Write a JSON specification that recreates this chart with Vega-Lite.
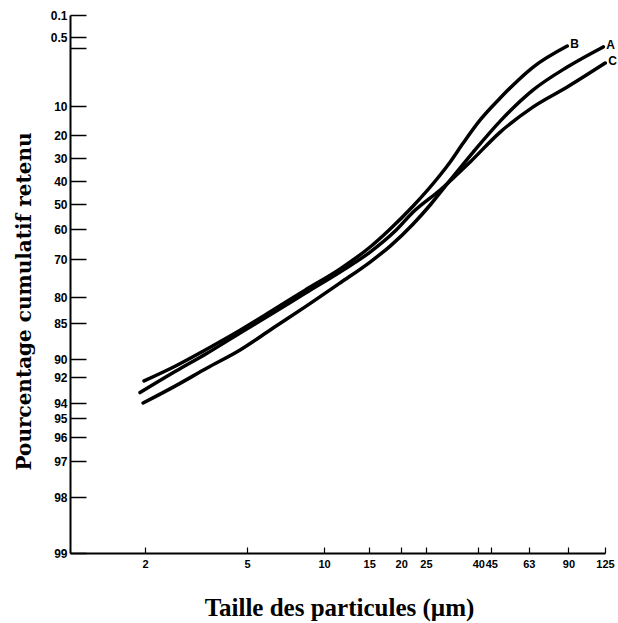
{
  "$schema": "https://vega.github.io/schema/vega-lite/v6.json",
  "width": 535,
  "height": 538,
  "autosize": {"type": "none"},
  "padding": {"left": 70, "top": 15, "right": 13, "bottom": 70},
  "background": "white",
  "config": {
    "view": {"stroke": null},
    "axis": {
      "domainColor": "black",
      "domainWidth": 2,
      "tickColor": "black",
      "labelColor": "black",
      "titleColor": "black",
      "grid": false
    }
  },
  "datasets": {
    "curves": [
      {"curve": "A", "size": 1.965, "pct": 94.0},
      {"curve": "A", "size": 2.62, "pct": 92.7},
      {"curve": "A", "size": 3.494, "pct": 91.0},
      {"curve": "A", "size": 4.7, "pct": 88.75},
      {"curve": "A", "size": 6.325, "pct": 85.7},
      {"curve": "A", "size": 8.434, "pct": 81.9},
      {"curve": "A", "size": 11.55, "pct": 76.3},
      {"curve": "A", "size": 15.13, "pct": 70.8},
      {"curve": "A", "size": 18.12, "pct": 65.7},
      {"curve": "A", "size": 22.28, "pct": 58.0},
      {"curve": "A", "size": 25.96, "pct": 50.4},
      {"curve": "A", "size": 31.08, "pct": 39.6},
      {"curve": "A", "size": 38.22, "pct": 27.4},
      {"curve": "A", "size": 48.73, "pct": 15.2},
      {"curve": "A", "size": 65.56, "pct": 7.5},
      {"curve": "A", "size": 89.04, "pct": 3.95},
      {"curve": "A", "size": 123.1, "pct": 0.95},
      {"curve": "B", "size": 1.982, "pct": 92.3},
      {"curve": "B", "size": 2.62, "pct": 90.8},
      {"curve": "B", "size": 3.494, "pct": 88.6},
      {"curve": "B", "size": 4.7, "pct": 86.0},
      {"curve": "B", "size": 6.325, "pct": 82.5},
      {"curve": "B", "size": 8.434, "pct": 78.2},
      {"curve": "B", "size": 11.55, "pct": 72.6},
      {"curve": "B", "size": 15.13, "pct": 66.0},
      {"curve": "B", "size": 18.12, "pct": 60.0},
      {"curve": "B", "size": 22.28, "pct": 50.8},
      {"curve": "B", "size": 28.4, "pct": 37.4},
      {"curve": "B", "size": 31.08, "pct": 31.7},
      {"curve": "B", "size": 34.93, "pct": 23.5},
      {"curve": "B", "size": 40.7, "pct": 14.8},
      {"curve": "B", "size": 48.73, "pct": 8.76},
      {"curve": "B", "size": 65.56, "pct": 3.95},
      {"curve": "B", "size": 89.04, "pct": 0.91},
      {"curve": "C", "size": 1.912, "pct": 93.2},
      {"curve": "C", "size": 2.62, "pct": 91.4},
      {"curve": "C", "size": 3.494, "pct": 89.2},
      {"curve": "C", "size": 4.7, "pct": 86.4},
      {"curve": "C", "size": 6.325, "pct": 83.1},
      {"curve": "C", "size": 8.434, "pct": 79.0},
      {"curve": "C", "size": 11.55, "pct": 73.4},
      {"curve": "C", "size": 15.13, "pct": 67.7},
      {"curve": "C", "size": 18.95, "pct": 60.7},
      {"curve": "C", "size": 22.28, "pct": 53.2},
      {"curve": "C", "size": 28.4, "pct": 43.9},
      {"curve": "C", "size": 37.21, "pct": 31.7},
      {"curve": "C", "size": 48.73, "pct": 19.0},
      {"curve": "C", "size": 65.56, "pct": 10.3},
      {"curve": "C", "size": 89.04, "pct": 7.05},
      {"curve": "C", "size": 125.3, "pct": 3.33}
    ],
    "labels": [
      {"curve": "A", "size": 123.1, "pct": 0.95},
      {"curve": "B", "size": 89.04, "pct": 0.91},
      {"curve": "C", "size": 125.3, "pct": 3.33}
    ]
  },
  "encoding": {
    "x": {
      "field": "size",
      "type": "quantitative",
      "scale": {"type": "log", "domain": [1.0187, 125], "nice": false, "zero": false},
      "axis": {
        "title": "Taille des particules (µm)",
        "titleFont": "Liberation Serif",
        "titleFontSize": 25,
        "titleFontWeight": "bold",
        "titleX": 269,
        "titleY": 54,
        "titleBaseline": "middle",
        "values": [2, 5, 10, 15, 20, 25, 40, 45, 63, 90, 125],
        "labelExpr": "format(datum.value, 'd')",
        "labelFont": "Liberation Sans",
        "labelFontWeight": "bold",
        "labelFontSize": 11,
        "labelOverlap": false,
        "labelFlush": false,
        "labelBound": false,
        "tickSize": -6,
        "tickWidth": 1.2,
        "labelPadding": 11
      }
    },
    "y": {
      "field": "pct",
      "type": "quantitative",
      "scale": {
        "type": "linear",
        "zero": false,
        "nice": false,
        "domain": [0.1, 0.5, 1, 10, 20, 30, 40, 50, 60, 70, 80, 85, 90, 92, 94, 95, 96, 97, 98, 99],
        "range": [0, 22, 33, 91, 120, 143, 166, 189, 214, 244, 282, 308, 344, 362, 388, 403, 422, 446, 482, 538]
      },
      "axis": {
        "title": "Pourcentage cumulatif retenu",
        "titleFont": "DejaVu Serif",
        "titleFontSize": 20,
        "titleFontWeight": "bold",
        "titleX": -46,
        "titleY": 286,
        "titleBaseline": "middle",
        "values": [0.1, 0.5, 1, 10, 20, 30, 40, 50, 60, 70, 80, 85, 90, 92, 94, 95, 96, 97, 98, 99],
        "labelExpr": "datum.value == 1 ? '' : datum.value < 1 ? format(datum.value, '.1f') : format(datum.value, 'd')",
        "labelFont": "Liberation Sans",
        "labelFontWeight": "bold",
        "labelFontSize": 12,
        "labelOverlap": false,
        "labelFlush": false,
        "labelBound": false,
        "tickSize": -16,
        "tickWidth": 1.5,
        "labelPadding": 19
      }
    }
  },
  "layer": [
    {
      "data": {"name": "curves"},
      "mark": {"type": "line", "color": "black", "strokeWidth": 3.5, "strokeCap": "round", "interpolate": "monotone"},
      "encoding": {"detail": {"field": "curve"}}
    },
    {
      "data": {"name": "labels"},
      "mark": {"type": "text", "align": "left", "baseline": "middle", "dx": 3, "dy": -2, "font": "Liberation Sans", "fontWeight": "bold", "fontSize": 12, "color": "black"},
      "encoding": {"text": {"field": "curve"}}
    }
  ]
}
